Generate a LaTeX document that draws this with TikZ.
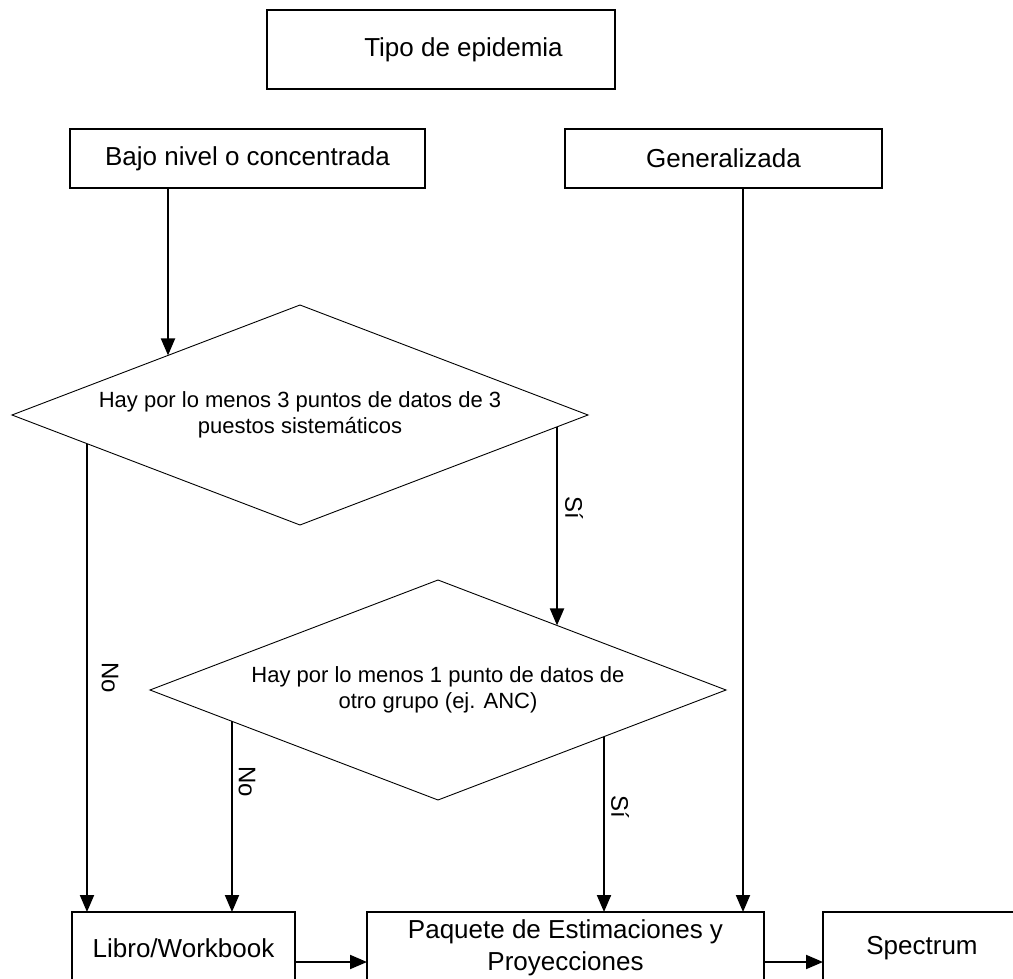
\documentclass[tikz,border=0pt]{standalone}
\usepackage{fontspec}
\setmainfont{Liberation Sans}
\usetikzlibrary{arrows.meta,shapes.geometric,calc}
\begin{document}
\begin{tikzpicture}[x=1pt,y=-1pt,
  box/.style={draw, line width=1.1pt, inner sep=0pt, outer sep=0pt, font=\fontsize{26}{30}\selectfont, align=center},
  dec/.style={draw, diamond, shape aspect=2.6, line width=0.9pt, inner sep=0pt, outer sep=0pt, minimum width=576pt, minimum height=220pt, font=\fontsize{22}{26}\selectfont, align=center},
  arr/.style={line width=2pt, -{Triangle[length=17pt,width=14pt]}},
  lbl/.style={rotate=-90, font=\fontsize{24}{28}\selectfont, inner sep=0pt}
]
\useasboundingbox (0,0) rectangle (1013,979);
\clip (0,0) rectangle (1013,979);
\fill[white] (0,0) rectangle (1013,979);

\node[box, minimum width=348pt, minimum height=79pt] (tipo) at (441,49.5) {\hspace*{45pt}Tipo de epidemia};
\node[box, minimum width=355pt, minimum height=59pt] (bajo) at (247.5,158.5) {Bajo nivel o concentrada};
\node[box, minimum width=317pt, minimum height=59pt] (gen) at (723.5,158.5) {Generalizada};
\node[dec] (d1) at (300,415) {Hay por lo menos 3 puntos de datos de 3\\puestos sistemáticos};
\node[dec] (d2) at (438,690) {Hay por lo menos 1 punto de datos de\\otro grupo (ej. ANC)};
\node[box, minimum width=223pt, minimum height=72pt] (libro) at (183.5,948) {Libro/Workbook};
\node[box, minimum width=397pt, minimum height=72pt, font=\fontsize{26}{32}\selectfont] (paq) at (565.5,948) {Paquete de Estimaciones y\\Proyecciones};
\node[box, minimum width=198pt, minimum height=72pt] (spec) at (922,948) {Spectrum};

\coordinate (b1) at ($(d1.west)!0.5417!(d1.north)$);
\coordinate (n1) at ($(d1.west)!0.2604!(d1.south)$);
\coordinate (s1) at ($(d1.east)!0.1076!(d1.south)$);
\coordinate (s1e) at ($(d2.east)!0.5868!(d2.north)$);
\coordinate (n2) at ($(d2.west)!0.2847!(d2.south)$);
\coordinate (s2) at ($(d2.east)!0.4236!(d2.south)$);

\draw[arr] (b1 |- bajo.south) -- (b1);
\draw[arr] (n1) -- (n1 |- libro.north);
\draw[arr] (s1) -- (s1 |- s1e);
\draw[arr] (n2) -- (n2 |- libro.north);
\draw[arr] (s2) -- (s2 |- paq.north);
\draw[arr] ([xshift=19.5pt]gen.south) -- ([xshift=19.5pt]gen.south |- paq.north);
\draw[arr] ([yshift=-14pt]libro.east) -- ([yshift=-14pt]paq.west);
\draw[arr] ([yshift=-14pt]paq.east) -- ([yshift=-14pt]spec.west);

\node[lbl] (si1) at (574,508) {Sí};
\node[lbl] (no1) at (110,678) {No};
\node[lbl] (no2) at (247,782) {No};
\node[lbl] (si2) at (620,807) {Sí};
\end{tikzpicture}
\end{document}
